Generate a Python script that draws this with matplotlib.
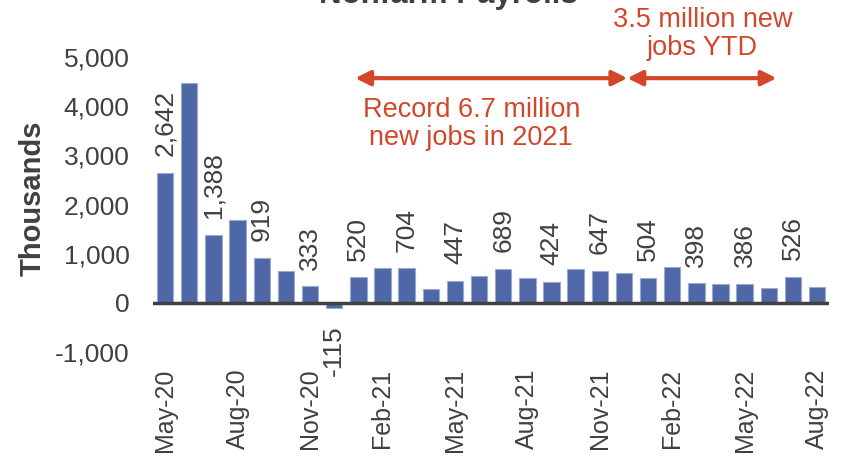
import matplotlib.pyplot as plt

plt.rcParams['font.family'] = 'Liberation Sans'

# Monthly change in nonfarm payrolls (thousands), May-20 .. Aug-22
months = ['May-20', 'Jun-20', 'Jul-20', 'Aug-20', 'Sep-20', 'Oct-20', 'Nov-20', 'Dec-20',
          'Jan-21', 'Feb-21', 'Mar-21', 'Apr-21', 'May-21', 'Jun-21', 'Jul-21', 'Aug-21',
          'Sep-21', 'Oct-21', 'Nov-21', 'Dec-21', 'Jan-22', 'Feb-22', 'Mar-22', 'Apr-22',
          'May-22', 'Jun-22', 'Jul-22', 'Aug-22']
values = [2642, 4480, 1388, 1680, 919, 640, 333, -115,
          520, 715, 704, 290, 447, 550, 689, 510,
          424, 680, 647, 600, 504, 720, 398, 375,
          386, 293, 526, 330]
# bars that carry a value label
labeled = ['May-20', 'Jul-20', 'Sep-20', 'Nov-20', 'Dec-20', 'Jan-21', 'Mar-21', 'May-21',
           'Jul-21', 'Sep-21', 'Nov-21', 'Jan-22', 'Mar-22', 'May-22', 'Jul-22']
tick_months = months[::3]

TXT = '#404040'
BAR = '#4F67A6'
RED = '#D2472A'

fig = plt.figure(figsize=(8.41, 4.59), dpi=100)
ax = fig.add_axes([0.182, 0.2331, 0.804, 0.6427])

x = list(range(len(months)))
ax.bar(x, values, width=0.68, color=BAR, edgecolor='#9AAAD2', linewidth=0.8, zorder=2)
ax.axhline(0, color=TXT, lw=2.5, zorder=3)

for i, (m, v) in enumerate(zip(months, values)):
    if m not in labeled:
        continue
    off = 12 if v >= 0 else -12
    ax.annotate(f'{v:,}', (i, v), xytext=(0, off), textcoords='offset points',
                rotation=90, ha='center', va='bottom' if v >= 0 else 'top',
                fontsize=19, color=TXT)

ax.set_xlim(-0.5, len(months) - 0.5)
ax.set_ylim(-1000, 5000)
ax.set_yticks(range(-1000, 5001, 1000))
ax.set_yticklabels([f'{t:,}' for t in range(-1000, 5001, 1000)])
ax.set_xticks([months.index(m) for m in tick_months])
ax.set_xticklabels(tick_months, rotation=90, va='top', ha='center')
ax.tick_params(axis='y', length=0, pad=17, labelsize=19, labelcolor=TXT)
ax.tick_params(axis='x', length=0, pad=12, labelsize=18, labelcolor=TXT)
for s in ax.spines.values():
    s.set_visible(False)

# annotations
arrow = dict(arrowstyle='<|-|>', color=RED, lw=3, mutation_scale=22, shrinkA=0, shrinkB=0)
ax.annotate('', xy=(7.87, 4570), xytext=(19.14, 4570), arrowprops=arrow, annotation_clip=False)
ax.annotate('', xy=(19.14, 4570), xytext=(25.32, 4570), arrowprops=arrow, annotation_clip=False)
ax.text(12.68, 3640, 'Record 6.7 million\nnew jobs in 2021', ha='center', va='center',
        fontsize=19.5, color=RED, linespacing=1.1)
ax.text(22.25, 5460, '3.5 million new\njobs YTD', ha='center', va='center',
        fontsize=19.5, color=RED, linespacing=1.1, clip_on=False)

fig.text(0.533, 1 - 3 / 459, 'Nonfarm Payrolls', ha='center', va='baseline',
         fontsize=22.5, fontweight='bold', color=TXT)
fig.text(32.5 / 841, 1 - 198 / 459, 'Thousands', rotation=90, ha='center', va='center',
         fontsize=21, fontweight='bold', color=TXT)

fig.savefig('out.png', dpi=100)
